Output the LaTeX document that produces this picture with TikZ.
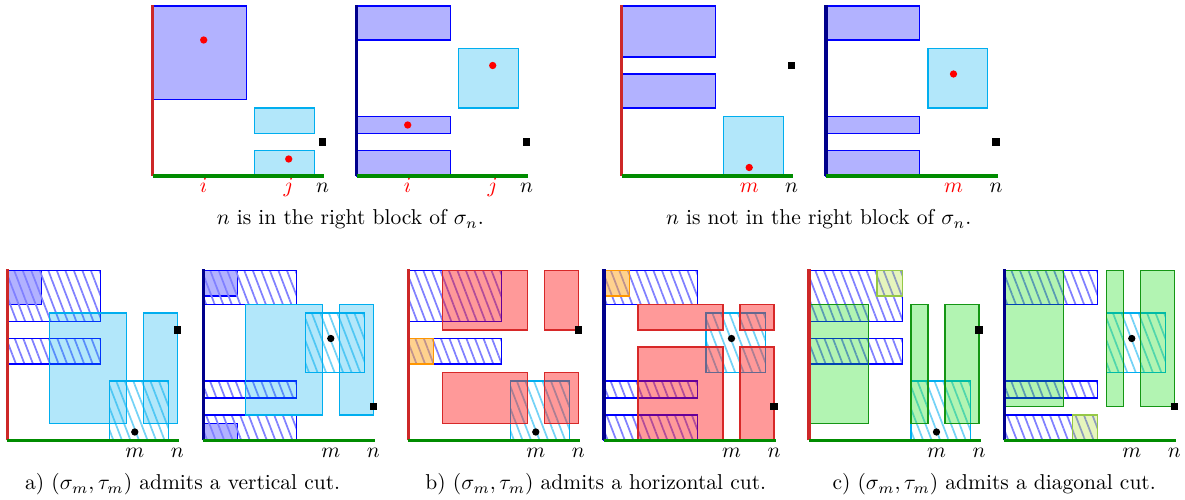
\documentclass[tikz,border=0pt]{standalone}
\usetikzlibrary{patterns.meta}
\definecolor{pcyan}{RGB}{0,174,239}
\definecolor{axred}{RGB}{205,40,40}
\definecolor{axnavy}{RGB}{0,0,140}
\definecolor{axgreen}{RGB}{0,140,0}
\definecolor{rbord}{RGB}{215,40,40}
\definecolor{gbord}{RGB}{20,150,20}
\definecolor{gfill}{RGB}{0,220,0}
\definecolor{ygbord}{RGB}{150,200,70}
\definecolor{ygfill}{RGB}{172,222,38}
\definecolor{orbord}{RGB}{255,150,0}
\definecolor{orfill}{RGB}{255,165,30}
\tikzset{
 panel/.style 2 args={shift={(#1*0.465pt,-#2*0.465pt)}, x=3.9525pt, y=3.9525pt},
 bluebox/.style={draw=blue, fill=blue!30, line width=0.6pt},
 hatchblue/.style={draw=blue, line width=0.6pt, pattern={Lines[angle=-69,distance=3.7pt,line width=0.8pt]}, pattern color=blue!50},
 hatchcyan/.style={draw=pcyan, line width=0.6pt, pattern={Lines[angle=-69,distance=3.7pt,line width=0.8pt]}, pattern color=pcyan!55},
 cyanbox/.style={draw=pcyan, fill=pcyan, fill opacity=0.3, line width=0.6pt},
 redbox/.style={draw=rbord, fill=red, fill opacity=0.4, line width=0.6pt},
 greenbox/.style={draw=gbord, fill=gfill, fill opacity=0.3, line width=0.6pt},
 orangebox/.style={draw=orbord, fill=orfill, fill opacity=0.5, line width=0.6pt},
 limebox/.style={draw=ygbord, fill=ygfill, fill opacity=0.3, line width=0.6pt},
 axisline/.style={line width=1.4pt},
 rdot/.style={circle, fill=red, inner sep=0pt, minimum size=3.4pt},
 bdot/.style={circle, fill=black, inner sep=0pt, minimum size=3.4pt},
 sqr/.style={rectangle, fill=black, inner sep=0pt, minimum size=3.3pt},
 lab/.style={anchor=base, inner sep=0pt},
 captext/.style={anchor=base, inner sep=0pt}
}
\begin{document}
\begin{tikzpicture}
\path[use as bounding box] (0pt,0pt) rectangle (551.025pt,-232.5pt);

% ---------- top row ----------
\begin{scope}[panel={152.7}{176}]
 \path[bluebox] (0,9) rectangle (11,20);
 \path[cyanbox] (12,5) rectangle (19,8);
 \path[cyanbox] (12,0) rectangle (19,3);
 \draw[axisline, axred] (0,0) -- (0,20.15);
 \draw[axisline, axgreen] (0,0) -- (20.2,0);
 \node[rdot] (p1d1) at (6,16) {};
 \node[rdot] (p1d2) at (16,2) {};
 \node[sqr] (p1s) at (20,4) {};
 \node[lab, red] (p1i) at (6,-2) {$i$};
 \node[lab, red] (p1j) at (16,-2) {$j$};
 \node[lab] (p1n) at (20,-2) {$n$};
\end{scope}

\begin{scope}[panel={356.7}{176}]
 \path[bluebox] (0,16) rectangle (11,20);
 \path[bluebox] (0,5) rectangle (11,7);
 \path[bluebox] (0,0) rectangle (11,3);
 \path[cyanbox] (12,8) rectangle (19,15);
 \draw[axisline, axnavy] (0,0) -- (0,20.15);
 \draw[axisline, axgreen] (0,0) -- (20.2,0);
 \node[rdot] (p2d1) at (16,13) {};
 \node[rdot] (p2d2) at (6,6) {};
 \node[sqr] (p2s) at (20,4) {};
 \node[lab, red] (p2i) at (6,-2) {$i$};
 \node[lab, red] (p2j) at (16,-2) {$j$};
 \node[lab] (p2n) at (20,-2) {$n$};
\end{scope}

\begin{scope}[panel={621.7}{176}]
 \path[bluebox] (0,14) rectangle (11,20);
 \path[bluebox] (0,8) rectangle (11,12);
 \path[cyanbox] (12,0) rectangle (19,7);
 \draw[axisline, axred] (0,0) -- (0,20.15);
 \draw[axisline, axgreen] (0,0) -- (20.2,0);
 \node[rdot] (p3d) at (15,1) {};
 \node[sqr] (p3s) at (20,13) {};
 \node[lab, red] (p3m) at (15,-2) {$m$};
 \node[lab] (p3n) at (20,-2) {$n$};
\end{scope}

\begin{scope}[panel={826}{176}]
 \path[bluebox] (0,16) rectangle (11,20);
 \path[bluebox] (0,5) rectangle (11,7);
 \path[bluebox] (0,0) rectangle (11,3);
 \path[cyanbox] (12,8) rectangle (19,15);
 \draw[axisline, axnavy] (0,0) -- (0,20.15);
 \draw[axisline, axgreen] (0,0) -- (20.2,0);
 \node[rdot] (p4d) at (15,12) {};
 \node[sqr] (p4s) at (20,4) {};
 \node[lab, red] (p4m) at (15,-2) {$m$};
 \node[lab] (p4n) at (20,-2) {$n$};
\end{scope}

\node[captext] (cap1) at (350.3*0.465pt,-225*0.465pt) {$n$ is in the right block of $\sigma_n$.};
\node[captext] (cap2) at (818.7*0.465pt,-225*0.465pt) {$n$ is not in the right block of $\sigma_n$.};

% ---------- bottom row: a ----------
\begin{scope}[panel={7.3}{440.5}]
 \path[bluebox] (0,16) rectangle (4,20);
 \path[hatchblue] (0,14) rectangle (11,20);
 \path[hatchblue] (0,9) rectangle (11,12);
 \path[hatchcyan] (12,0) rectangle (19,7);
 \path[cyanbox] (5,2) rectangle (14,15);
 \path[cyanbox] (16,2) rectangle (20,15);
 \draw[axisline, axred] (0,0) -- (0,20.15);
 \draw[axisline, axgreen] (0,0) -- (20.2,0);
 \node[bdot] (a1d) at (15,1) {};
 \node[sqr] (a1s) at (20,13) {};
 \node[lab] (a1m) at (15,-2) {$m$};
 \node[lab] (a1n) at (20,-2) {$n$};
\end{scope}

\begin{scope}[panel={203.3}{440.5}]
 \path[bluebox] (0,17) rectangle (4,20);
 \path[bluebox] (0,0) rectangle (4,2);
 \path[hatchblue] (0,16) rectangle (11,20);
 \path[hatchblue] (0,5) rectangle (11,7);
 \path[hatchblue] (0,0) rectangle (11,3);
 \path[hatchcyan] (12,8) rectangle (19,15);
 \path[cyanbox] (5,3) rectangle (14,16);
 \path[cyanbox] (16,3) rectangle (20,16);
 \draw[axisline, axnavy] (0,0) -- (0,20.15);
 \draw[axisline, axgreen] (0,0) -- (20.2,0);
 \node[bdot] (a2d) at (15,12) {};
 \node[sqr] (a2s) at (20,4) {};
 \node[lab] (a2m) at (15,-2) {$m$};
 \node[lab] (a2n) at (20,-2) {$n$};
\end{scope}

% ---------- bottom row: b ----------
\begin{scope}[panel={408.3}{440.5}]
 \path[hatchblue] (0,14) rectangle (11,20);
 \path[hatchblue] (0,9) rectangle (11,12);
 \path[hatchcyan] (12,0) rectangle (19,7);
 \path[redbox] (4,13) rectangle (14,20);
 \path[redbox] (16,13) rectangle (20,20);
 \path[redbox] (4,2) rectangle (14,8);
 \path[redbox] (16,2) rectangle (20,8);
 \path[orangebox] (0,9) rectangle (3,12);
 \draw[axisline, axred] (0,0) -- (0,20.15);
 \draw[axisline, axgreen] (0,0) -- (20.2,0);
 \node[bdot] (b1d) at (15,1) {};
 \node[sqr] (b1s) at (20,13) {};
 \node[lab] (b1m) at (15,-2) {$m$};
 \node[lab] (b1n) at (20,-2) {$n$};
\end{scope}

\begin{scope}[panel={604}{440.5}]
 \path[hatchblue] (0,16) rectangle (11,20);
 \path[hatchblue] (0,5) rectangle (11,7);
 \path[hatchblue] (0,0) rectangle (11,3);
 \path[hatchcyan] (12,8) rectangle (19,15);
 \path[redbox] (4,13) rectangle (14,16);
 \path[redbox] (16,13) rectangle (20,16);
 \path[redbox] (4,0) rectangle (14,11);
 \path[redbox] (16,0) rectangle (20,11);
 \path[orangebox] (0,17) rectangle (3,20);
 \draw[axisline, axnavy] (0,0) -- (0,20.15);
 \draw[axisline, axgreen] (0,0) -- (20.2,0);
 \node[bdot] (b2d) at (15,12) {};
 \node[sqr] (b2s) at (20,4) {};
 \node[lab] (b2m) at (15,-2) {$m$};
 \node[lab] (b2n) at (20,-2) {$n$};
\end{scope}

% ---------- bottom row: c ----------
\begin{scope}[panel={809}{440.5}]
 \path[hatchblue] (0,14) rectangle (11,20);
 \path[hatchblue] (0,9) rectangle (11,12);
 \path[hatchcyan] (12,0) rectangle (19,7);
 \path[greenbox] (0,2) rectangle (7,16);
 \path[greenbox] (12,2) rectangle (14,16);
 \path[greenbox] (16,2) rectangle (20,16);
 \path[limebox] (8,17) rectangle (11,20);
 \draw[axisline, axred] (0,0) -- (0,20.15);
 \draw[axisline, axgreen] (0,0) -- (20.2,0);
 \node[bdot] (c1d) at (15,1) {};
 \node[sqr] (c1s) at (20,13) {};
 \node[lab] (c1m) at (15,-2) {$m$};
 \node[lab] (c1n) at (20,-2) {$n$};
\end{scope}

\begin{scope}[panel={1004.3}{440.5}]
 \path[hatchblue] (0,16) rectangle (11,20);
 \path[hatchblue] (0,5) rectangle (11,7);
 \path[hatchblue] (0,0) rectangle (11,3);
 \path[hatchcyan] (12,8) rectangle (19,15);
 \path[greenbox] (0,4) rectangle (7,20);
 \path[greenbox] (12,4) rectangle (14,20);
 \path[greenbox] (16,4) rectangle (20,20);
 \path[limebox] (8,0) rectangle (11,3);
 \draw[axisline, axnavy] (0,0) -- (0,20.15);
 \draw[axisline, axgreen] (0,0) -- (20.2,0);
 \node[bdot] (c2d) at (15,12) {};
 \node[sqr] (c2s) at (20,4) {};
 \node[lab] (c2m) at (15,-2) {$m$};
 \node[lab] (c2n) at (20,-2) {$n$};
\end{scope}

\node[captext] (capa) at (182.7*0.465pt,-490*0.465pt) {a) $(\sigma_m,\tau_m)$ admits a vertical cut.};
\node[captext] (capb) at (595.8*0.465pt,-490*0.465pt) {b) $(\sigma_m,\tau_m)$ admits a horizontal cut.};
\node[captext] (capc) at (994.2*0.465pt,-490*0.465pt) {c) $(\sigma_m,\tau_m)$ admits a diagonal cut.};
\end{tikzpicture}
\end{document}
